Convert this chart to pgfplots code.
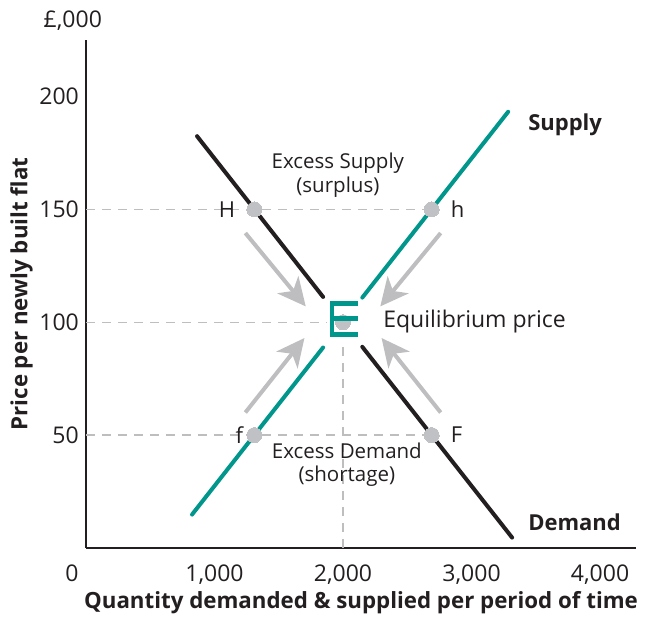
\documentclass[border=0pt]{standalone}
\usepackage{pgfplots}
\pgfplotsset{compat=1.18}
\usepackage{fontspec}
\setmainfont{Open Sans}
\usetikzlibrary{arrows.meta}
\definecolor{myteal}{RGB}{0,150,140}
\definecolor{ptgray}{RGB}{192,193,196}
\definecolor{dashgray}{RGB}{190,190,190}
\definecolor{arrgray}{RGB}{190,190,192}
\definecolor{txt}{RGB}{35,31,32}
\begin{document}
\begin{tikzpicture}
\begin{axis}[
  set layers,
  scale only axis, width=550pt, height=508pt,
  xmin=0, xmax=4280, ymin=0, ymax=225,
  axis x line*=bottom, axis y line*=left,
  axis line style={line width=2.8pt, txt, -},
  major tick length=0pt,
  xtick={1000,2000,3000,4000},
  xticklabels={{1,000},{2,000},{3,000},{4,000}},
  ytick={50,100,150,200},
  yticklabels={50,100,150,200},
  tick label style={font=\fontsize{23}{27}\selectfont, text=txt},
  xticklabel style={anchor=north, inner sep=0pt, yshift=-17pt},
  yticklabel style={anchor=east, inner sep=0pt, xshift=-7pt},
  xlabel={Quantity demanded \& supplied per period of time},
  ylabel={Price per newly built flat},
  label style={font=\bfseries\fontsize{22.3}{26}\selectfont, text=txt},
  xlabel style={at={(axis description cs:0.5,-0.108)}, anchor=center},
  ylabel style={at={(axis description cs:-0.117,0.5)}, anchor=center},
  clip=false,
]
\coordinate (SW) at (rel axis cs:0,0);
\coordinate (NE) at (rel axis cs:1,1);
% dashed guides
\addplot[dashgray, line width=1.3pt, dash pattern=on 9pt off 7pt] coordinates {(0,150) (2690,150)};
\addplot[dashgray, line width=1.3pt, dash pattern=on 9pt off 7pt] coordinates {(0,100) (1870,100)};
\addplot[dashgray, line width=1.3pt, dash pattern=on 9pt off 7pt] coordinates {(0,50) (2690,50)};
\addplot[dashgray, line width=1.3pt, dash pattern=on 9pt off 7pt] coordinates {(2000,0) (2000,91)};
% demand
\addplot[txt, line width=4pt, line cap=round] coordinates {(864,182.4) (1845,111.2)};
\addplot[txt, line width=4pt, line cap=round] coordinates {(2150,89.1) (3316,4.6)};
% supply
\addplot[myteal, line width=4pt, line cap=round] coordinates {(825,14.8) (1845,88.8)};
\addplot[myteal, line width=4pt, line cap=round] coordinates {(2150,110.9) (3285,193.2)};
% arrows
\addplot[arrgray, line width=4pt, -{Stealth[length=28pt,width=27pt,inset=8pt]}] coordinates {(1240,139.5) (1710,107)};
\addplot[arrgray, line width=4pt, -{Stealth[length=28pt,width=27pt,inset=8pt]}] coordinates {(2760,139.5) (2290,107)};
\addplot[arrgray, line width=4pt, -{Stealth[length=28pt,width=27pt,inset=8pt]}] coordinates {(1240,60) (1700,93)};
\addplot[arrgray, line width=4pt, -{Stealth[length=28pt,width=27pt,inset=8pt]}] coordinates {(2760,60) (2300,93)};
% points
\addplot[ptgray, only marks, mark=*, mark size=7.5pt, mark options={fill=ptgray, draw=ptgray, line width=0pt}] coordinates {(1310,150) (2690,150) (1310,50) (2690,50) (2000,100)};
% E bracket (on top of the centre point)
\addplot[myteal, line width=4.5pt, on layer=axis foreground] coordinates {(2115,108.3) (1915,108.3) (1915,94.6) (2115,94.6)};
\addplot[myteal, line width=4.5pt, on layer=axis foreground] coordinates {(1915,101.6) (2115,101.6)};
% texts
\node[font=\fontsize{20.5}{24}\selectfont, align=center, text=txt] at (1960,165) {Excess Supply\\(surplus)};
\node[font=\fontsize{20.5}{23}\selectfont, align=center, text=txt] at (2030,36.8) {Excess Demand\\(shortage)};
\node[font=\fontsize{23}{27}\selectfont, anchor=west, inner sep=0pt, text=txt] at (2312,100.1) {Equilibrium price};
\node[font=\bfseries\fontsize{22}{26}\selectfont, anchor=west, inner sep=0pt, text=txt] at (3440,187.3) {Supply};
\node[font=\bfseries\fontsize{22}{26}\selectfont, anchor=west, inner sep=0pt, text=txt] at (3440,11.5) {Demand};
\node[font=\fontsize{22}{26}\selectfont, anchor=east, inner sep=0pt, text=txt, xshift=-19pt] at (1310,150) {H};
\node[font=\fontsize{22}{26}\selectfont, anchor=west, inner sep=0pt, text=txt, xshift=19pt] at (2690,150) {h};
\node[font=\fontsize{22}{26}\selectfont, anchor=east, inner sep=0pt, text=txt, xshift=-11pt] at (1310,50) {f};
\node[font=\fontsize{22}{26}\selectfont, anchor=west, inner sep=0pt, text=txt, xshift=19pt] at (2690,50) {F};
\node[font=\fontsize{23}{27}\selectfont, anchor=north, inner sep=0pt, text=txt, xshift=-14pt, yshift=-17pt] at (0,0) {0};
\node[font=\fontsize{23}{27}\selectfont, anchor=center, text=txt] at (axis description cs:-0.024,1.039) {£,000};
\end{axis}
\pgfresetboundingbox
\path ([shift={(-86pt,-69pt)}]SW) rectangle ([shift={(12pt,40pt)}]NE);
\end{tikzpicture}
\end{document}
